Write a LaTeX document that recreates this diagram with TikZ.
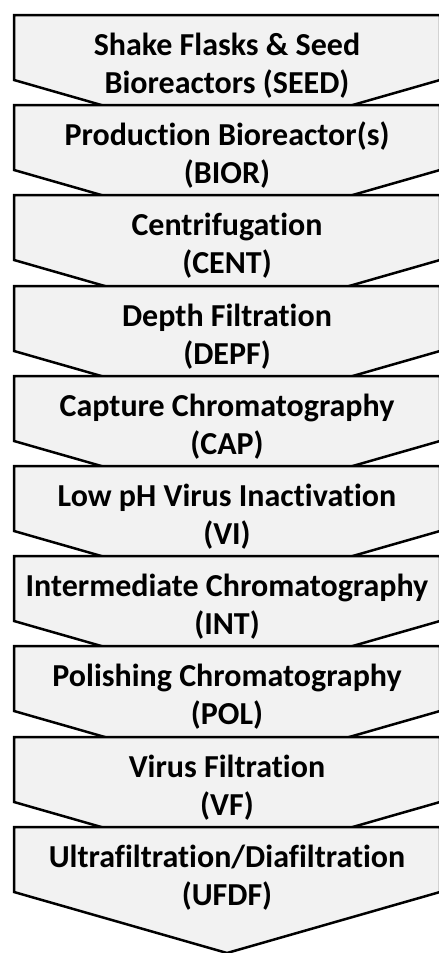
\documentclass[tikz,border=0pt]{standalone}
\usepackage{fontspec}
\setmainfont{Carlito}[Ligatures=NoCommon]
\newlength{\du}
\setlength{\du}{0.5pt}
\definecolor{stepfill}{rgb}{0.949020, 0.949020, 0.949020}
\tikzset{
  stepbox/.style={fill=stepfill, draw=black, line width=2.5\du, line join=miter},
  steptext/.style={anchor=north, align=center, inner sep=0pt,
    font=\fontsize{16pt}{19pt}\selectfont\bfseries}
}

\begin{document}
\begin{tikzpicture}
\pgftransformxscale{1.000000}
\pgftransformyscale{-1.000000}
\useasboundingbox (0\du,0\du) rectangle (439\du,953\du);
% SEED
\draw[stepbox] (14\du,15\du)--(440\du,15\du)--(440\du,80\du)--(227\du,141\du)--(14\du,80\du)--cycle;
\node[steptext] (seed) at (227\du,28.4\du){\strut Shake Flasks \& Seed\\Bioreactors (SEED)};
% BIOR
\draw[stepbox] (14\du,105\du)--(440\du,105\du)--(440\du,170\du)--(227\du,231\du)--(14\du,170\du)--cycle;
\node[steptext] (bior) at (227\du,118.4\du){\strut Production Bioreactor(s)\\(BIOR)};
% CENT
\draw[stepbox] (14\du,195\du)--(440\du,195\du)--(440\du,260\du)--(227\du,321\du)--(14\du,260\du)--cycle;
\node[steptext] (cent) at (227\du,208.4\du){\strut Centrifugation\\(CENT)};
% DEPF
\draw[stepbox] (14\du,286\du)--(440\du,286\du)--(440\du,351\du)--(227\du,412\du)--(14\du,351\du)--cycle;
\node[steptext] (depf) at (227\du,299.4\du){\strut Depth Filtration\\(DEPF)};
% CAP
\draw[stepbox] (14\du,376\du)--(440\du,376\du)--(440\du,441\du)--(227\du,502\du)--(14\du,441\du)--cycle;
\node[steptext] (cap) at (227\du,389.4\du){\strut Capture Chromatography\\(CAP)};
% VI
\draw[stepbox] (14\du,466\du)--(440\du,466\du)--(440\du,531\du)--(227\du,592\du)--(14\du,531\du)--cycle;
\node[steptext] (vi) at (227\du,479.4\du){\strut Low pH Virus Inactivation\\(VI)};
% INT
\draw[stepbox] (14\du,556\du)--(440\du,556\du)--(440\du,621\du)--(227\du,682\du)--(14\du,621\du)--cycle;
\node[steptext] (int) at (227\du,569.4\du){\strut Intermediate Chromatography\\(INT)};
% POL
\draw[stepbox] (14\du,646\du)--(440\du,646\du)--(440\du,711\du)--(227\du,772\du)--(14\du,711\du)--cycle;
\node[steptext] (pol) at (227\du,659.4\du){\strut Polishing Chromatography\\(POL)};
% VF
\draw[stepbox] (14\du,737\du)--(440\du,737\du)--(440\du,802\du)--(227\du,863\du)--(14\du,802\du)--cycle;
\node[steptext] (vf) at (227\du,750.4\du){\strut Virus Filtration\\(VF)};
% UFDF
\draw[stepbox] (14\du,827\du)--(440\du,827\du)--(440\du,892\du)--(227\du,953\du)--(14\du,892\du)--cycle;
\node[steptext] (ufdf) at (227\du,840.4\du){\strut Ultrafiltration/Diafiltration\\(UFDF)};
\end{tikzpicture}
\end{document}
